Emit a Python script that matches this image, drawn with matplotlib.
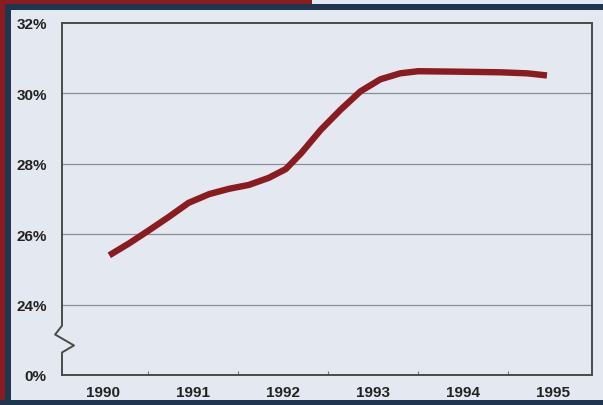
import matplotlib
matplotlib.use("Agg")
import matplotlib.pyplot as plt
from matplotlib.patches import Rectangle
from matplotlib.lines import Line2D
import matplotlib.transforms as mtransforms

# values (year, percent)
years = [1990.07, 1990.29, 1990.51, 1990.73, 1990.95, 1991.18, 1991.40, 1991.62,
         1991.84, 1992.03, 1992.20, 1992.42, 1992.64, 1992.86, 1993.08, 1993.30,
         1993.50, 1993.86, 1994.41, 1994.71, 1994.93]
share = [25.40, 25.74, 26.11, 26.49, 26.89, 27.14, 27.29, 27.40,
         27.60, 27.85, 28.30, 28.97, 29.54, 30.06, 30.40, 30.57,
         30.63, 30.62, 30.60, 30.57, 30.51]
year_ticks = [1990, 1991, 1992, 1993, 1994, 1995]
ytick_pos = [22, 24, 26, 28, 30, 32]          # 22 stands in for the broken-axis 0%
ytick_lab = ["0%", "24%", "26%", "28%", "30%", "32%"]

W, H = 603, 406
PANEL = "#e4e8f0"; RED = "#8a1b1e"; NAVY = "#1f3651"; INK = "#222222"
FONT = ["Liberation Sans", "DejaVu Sans"]

fig = plt.figure(figsize=(W / 100, H / 100), dpi=100)
fig.patch.set_facecolor(PANEL)

def px_rect(x, y, w, h, c):
    # rectangle in pixel coords measured from the top-left corner
    fig.add_artist(Rectangle((x / W, 1 - (y + h) / H), w / W, h / H,
                             transform=fig.transFigure, color=c, lw=0, zorder=0))

px_rect(0, 0, 312, 5, RED)
px_rect(0, 0, 5, H, RED)
px_rect(5, 5, W, 6, NAVY)
px_rect(5, 5, 6, H, NAVY)
px_rect(0, 401, W, 5, NAVY)

ax = fig.add_axes([62 / W, 30 / H, 530 / W, 352 / H])
ax.set_facecolor("none")
ax.set_xlim(1989.545, 1995.43)
ax.set_ylim(22, 32)

for v in ytick_pos[1:-1]:
    ax.axhline(v, color="#8a8d94", lw=0.9, zorder=1)

ax.plot(years, share, color=RED, lw=4.6, solid_capstyle="butt",
        solid_joinstyle="round", zorder=3)

for s in ["top", "right", "bottom"]:
    ax.spines[s].set_color("#4a4a4a")
    ax.spines[s].set_linewidth(1.4)
ax.spines["left"].set_visible(False)

# left spine with a zigzag break between 0% and 24%
tr = mtransforms.blended_transform_factory(ax.transAxes, ax.transData)
bx = [0, 0, -0.013, 0.0226, 0, 0, 0]
by = [32, 23.4, 23.15, 22.84, 22.64, 22, 22]
ax.add_line(Line2D(bx, by, transform=tr, color="#4a4a4a", lw=1.4,
                   clip_on=False, zorder=4))

ax.set_yticks(ytick_pos)
ax.set_yticklabels(ytick_lab)
ax.set_xticks(year_ticks)
ax.set_xticklabels([str(y) for y in year_ticks])
ax.set_xticks([y + 0.5 for y in year_ticks[:-1]], minor=True)
ax.tick_params(axis="y", length=0, pad=11)
ax.tick_params(axis="x", which="major", length=0, pad=7)
ax.tick_params(axis="x", which="minor", direction="in", length=3,
               color="#777777", width=0.8)
for lab in ax.get_xticklabels() + ax.get_yticklabels():
    lab.set_family(FONT)
    lab.set_fontweight("bold")
    lab.set_fontsize(11)
    lab.set_color(INK)

fig.savefig("out.png", dpi=100, facecolor=fig.get_facecolor())
